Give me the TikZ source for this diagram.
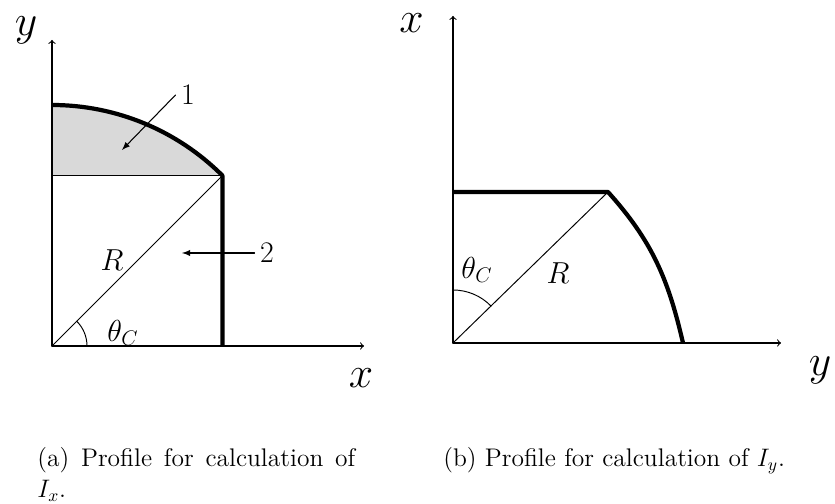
\documentclass[tikz,border=0pt]{standalone}
\usetikzlibrary{calc}
\begin{document}
\begin{tikzpicture}[line cap=round,line join=round,
  axis/.style={line width=0.6pt,->},
  edge/.style={line width=0.55pt},
  bold/.style={line width=2.4pt,line cap=butt},
  pointer/.style={line width=0.6pt,-latex},
  axlabel/.style={font=\fontsize{30}{36}\selectfont,inner sep=0pt},
  lbl/.style={font=\fontsize{17}{20}\selectfont,inner sep=3pt},
  caption/.style={font=\fontsize{14.5}{17.5}\selectfont,inner sep=0pt,anchor=north west}]
  \useasboundingbox (0,0) rectangle (16.70,10.08);
  % (a) profile for I_x
  \coordinate (O) at (1.04,3.16);
  \coordinate (A) at (4.448,6.568);
  \coordinate (T) at (1.04,7.98);
  \coordinate (H) at (1.04,6.568);
  \fill[gray!30] (T) arc (90:45:4.82) -- (H) -- cycle;
  \draw[edge] (O) -- (A);
  \draw[edge] (H) -- (A);
  \draw[bold] (T) arc (90:45:4.82) -- (4.448,3.16);
  \draw[axis] (O) -- (1.04,9.28);
  \draw[axis] (O) -- (7.28,3.16);
  \draw[edge] (O) ++(0:0.7) arc (0:45:0.7);
  \node[axlabel] (ya) at (0.52,9.48) {$y$};
  \node[axlabel] (xa) at (7.22,2.52) {$x$};
  \node[lbl] (one) at (3.76,8.18) {1};
  \node[lbl] (two) at (5.34,5.02) {2};
  \node[lbl] (ra) at (2.24,4.88) {$R$};
  \node[lbl] (tha) at (2.46,3.42) {$\theta_C$};
  \coordinate (p1) at (2.44,7.08);
  \coordinate (p2) at (3.64,5.02);
  \draw[pointer] (one.west) -- (p1);
  \draw[pointer] (two.west) -- (p2);
  % (b) profile for I_y
  \coordinate (O2) at (9.06,3.22);
  \coordinate (B) at (12.16,6.24);
  \coordinate (E) at (13.66,3.22);
  \draw[edge] (O2) -- (B);
  \draw[bold] (9.06,6.24) -- (B) to[out=-48,in=103] (E);
  \draw[axis] (O2) -- (9.06,9.76);
  \draw[axis] (O2) -- (15.62,3.22);
  \draw[edge] (O2) ++(90:1.06) arc (90:44:1.06);
  \node[axlabel] (xb) at (8.23,9.61) {$x$};
  \node[axlabel] (yb) at (16.40,2.68) {$y$};
  \node[lbl] (thb) at (9.54,4.68) {$\theta_C$};
  \node[lbl] (rb) at (11.16,4.62) {$R$};
  % captions
  \node[caption,text width=6.36cm,align=justify] (capa) at (0.74,1.14)
    {(a) Profile for calculation of $I_x$.};
  \node[caption] (capb) at (8.86,1.14) {(b) Profile for calculation of $I_y$.};
\end{tikzpicture}
\end{document}
